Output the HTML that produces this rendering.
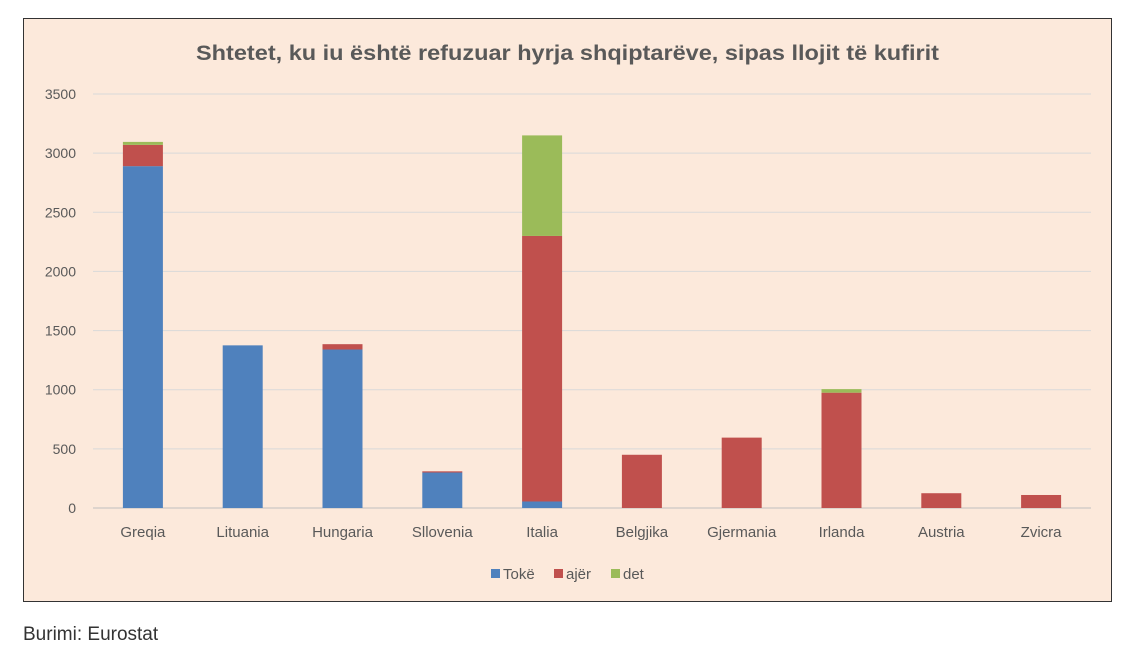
<!DOCTYPE html>
<html><head><meta charset="utf-8">
<style>
body{margin:0;background:#fff;width:1133px;height:657px;overflow:hidden;font-family:"Liberation Sans",sans-serif}
#chart{position:absolute;left:23px;top:18px;width:1087px;height:582px;border:1.5px solid #333;background:#fce9db}
#src{position:absolute;left:23px;top:624px;font-size:19px;color:#333}
</style></head><body>
<div id="chart">
<svg id="svg" width="1087" height="582"></svg>
</div>
<div id="src">Burimi: Eurostat</div>
<script>
const categories=["Greqia","Lituania","Hungaria","Sllovenia","Italia","Belgjika","Gjermania","Irlanda","Austria","Zvicra"];
const toke=[2890,1375,1340,300,55,0,0,0,0,0];
const ajer=[180,0,45,10,2245,450,595,975,125,110];
const det=[25,0,0,0,850,0,0,30,0,0];
const yTicks=[0,500,1000,1500,2000,2500,3000,3500];
const seriesNames=["Tokë","ajër","det"];
const colors=["#4f81bd","#c0504d","#9bbb59"];
const ox=23,oy=18;
const svg=document.getElementById('svg');
const NS="http://www.w3.org/2000/svg";
function el(t,a){const e=document.createElementNS(NS,t);for(const k in a)e.setAttribute(k,a[k]);svg.appendChild(e);return e;}
const left=92-ox,right=1090-ox,y0=507-oy,yTop=93-oy;
const y=v=>y0-(v/3500)*(y0-yTop);
const step=(right-left)/categories.length;
const x=i=>left+step*(i+0.5);
const bw=40;
const t=el('text',{x:172,y:41,'font-size':21,'font-weight':'bold',fill:'#595959',textLength:743,lengthAdjust:'spacingAndGlyphs'});
t.textContent="Shtetet, ku iu është refuzuar hyrja shqiptarëve, sipas llojit të kufirit";

yTicks.forEach(v=>{
 const g=el('line',{x1:left,x2:right,y1:y(v),y2:y(v),stroke:v?'#d9d9d9':'#bfbfbf','stroke-width':1});
 
 const l=el('text',{x:left-17,y:y(v)+5,'text-anchor':'end','font-size':14,fill:'#595959'});
 l.textContent=v;
});
const series=[toke,ajer,det];
categories.forEach((c,i)=>{
 let base=0;
 series.forEach((s,k)=>{
  if(s[i]>0){
   const r=el('rect',{x:x(i)-bw/2,y:y(base+s[i]),width:bw,height:y(base)-y(base+s[i]),fill:colors[k]});
   
  }
  base+=s[i];
 });
 const l=el('text',{x:x(i),y:y0+29,'text-anchor':'middle','font-size':15,fill:'#595959'});
 l.textContent=c;
});
const lx=[467,530,587];
seriesNames.forEach((n,k)=>{
 const r=el('rect',{x:lx[k],y:550,width:9,height:9,fill:colors[k]});
 
 const tx=el('text',{x:lx[k]+12,y:560,'font-size':15,fill:'#595959'});
 tx.textContent=n;
});
</script>
</body></html>
